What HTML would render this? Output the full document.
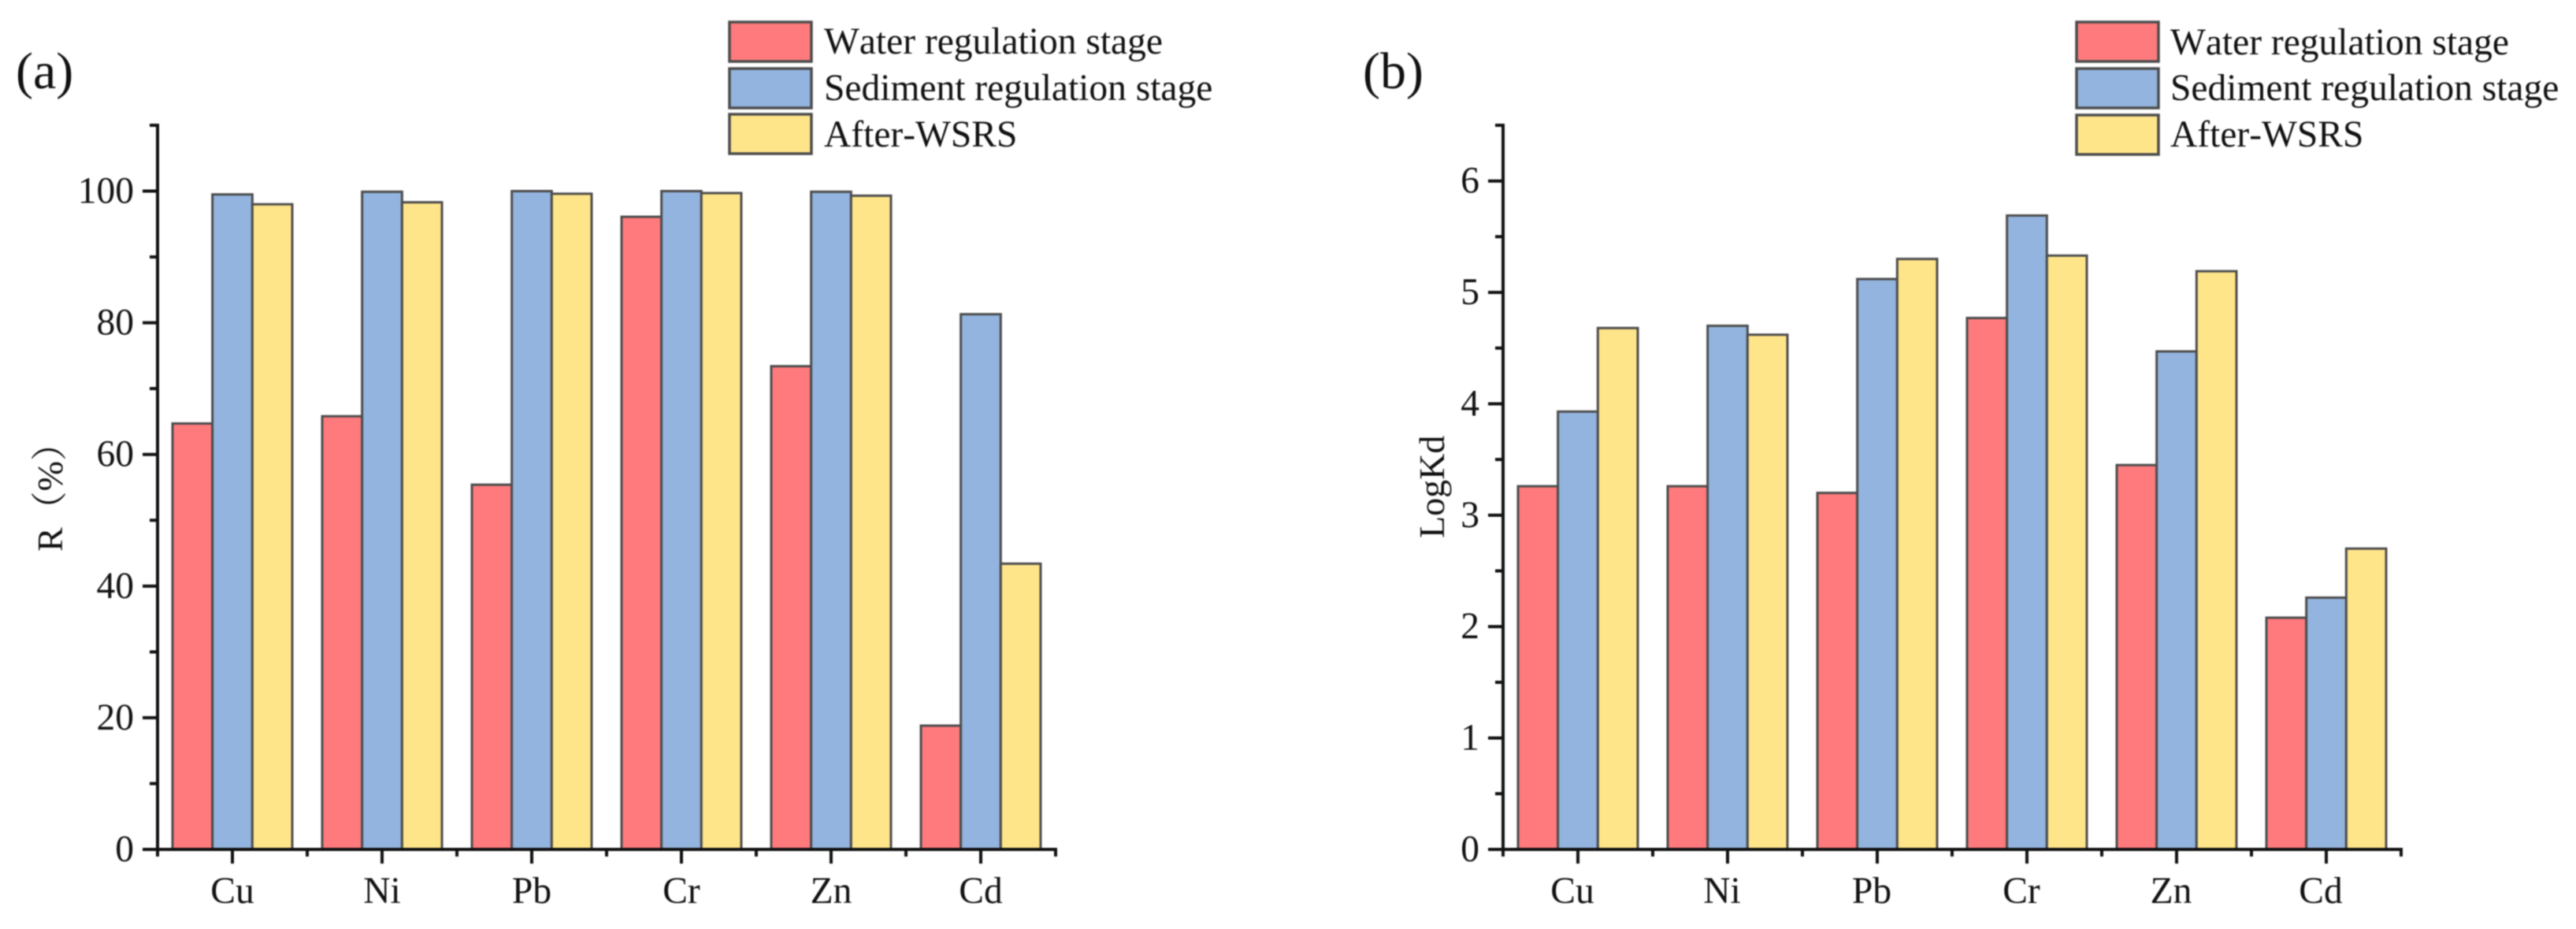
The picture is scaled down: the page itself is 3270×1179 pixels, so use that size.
<!DOCTYPE html>
<html lang="en">
<head>
<meta charset="utf-8">
<title>Metal removal R and LogKd by regulation stage</title>
<style>
  html, body { margin: 0; padding: 0; background: #fff; }
  #figure { display: block; width: 3270px; height: 1179px; filter: blur(0.9px); }
  text { font-family: "Liberation Serif", "Noto Serif CJK SC", serif; fill: #111; font-kerning: none; }
</style>
</head>
<body>
<svg id="figure" xmlns="http://www.w3.org/2000/svg" width="3270" height="1179" viewBox="0 0 3270 1179">
  <rect x="0" y="0" width="3270" height="1179" fill="#fff"/>

  <g id="panel-a">
    <text x="20" y="112" font-size="66">(a)</text>
    <text transform="translate(79,700) rotate(-90)" font-size="46">R（%）</text>
    <g>
      <rect x="926" y="28" width="104" height="50" fill="#FE7A7D" stroke="#4c4c4c" stroke-width="3.5"/>
      <rect x="926" y="87" width="104" height="50" fill="#93B4DF" stroke="#4c4c4c" stroke-width="3.5"/>
      <rect x="926" y="145" width="104" height="50" fill="#FFE58A" stroke="#4c4c4c" stroke-width="3.5"/>
      <text x="1046" y="68" font-size="47.5">Water regulation stage</text>
      <text x="1046" y="127" font-size="47.5">Sediment regulation stage</text>
      <text x="1046" y="186" font-size="47.5">After-WSRS</text>
    </g>
  </g>

  <g id="panel-b">
    <text x="1730" y="112" font-size="66">(b)</text>
    <text transform="translate(1833,683) rotate(-90)" font-size="46">LogKd</text>
    <g>
      <rect x="2636" y="28" width="104" height="50" fill="#FE7A7D" stroke="#4c4c4c" stroke-width="3.5"/>
      <rect x="2636" y="87" width="104" height="50" fill="#93B4DF" stroke="#4c4c4c" stroke-width="3.5"/>
      <rect x="2636" y="146" width="104" height="50" fill="#FFE58A" stroke="#4c4c4c" stroke-width="3.5"/>
      <text x="2755" y="69" font-size="47.5">Water regulation stage</text>
      <text x="2755" y="127" font-size="47.5">Sediment regulation stage</text>
      <text x="2755" y="186" font-size="47.5">After-WSRS</text>
    </g>
  </g>
</svg>

<script>
// Shared categories and series
const categories = ['Cu', 'Ni', 'Pb', 'Cr', 'Zn', 'Cd'];
const seriesNames = ['water', 'sediment', 'after'];

// Panel (a): R (%)
const waterR = [64.7, 65.8, 55.4, 96.1, 73.4, 18.8];
const sedimentR = [99.5, 99.9, 100, 100, 99.9, 81.3];
const afterR = [98.0, 98.3, 99.6, 99.7, 99.3, 43.4];
const ticksR = [0, 20, 40, 60, 80, 100];
const minorTicksR = [10, 30, 50, 70, 90, 110];

// Panel (b): LogKd
const waterKd = [3.26, 3.26, 3.20, 4.77, 3.45, 2.08];
const sedimentKd = [3.93, 4.70, 5.12, 5.69, 4.47, 2.26];
const afterKd = [4.68, 4.62, 5.30, 5.33, 5.19, 2.70];
const ticksKd = [0, 1, 2, 3, 4, 5, 6];
const minorTicksKd = [0.5, 1.5, 2.5, 3.5, 4.5, 5.5, 6.5];

const SVG_NS = 'http://www.w3.org/2000/svg';
const FILLS = ['#FE7A7D', '#93B4DF', '#FFE58A'];
const BOTTOM = 1078, TOP = 159;

function makeLine(parent, x1, y1, x2, y2, width) {
  const l = document.createElementNS(SVG_NS, 'line');
  l.setAttribute('x1', x1);
  l.setAttribute('y1', y1);
  l.setAttribute('x2', x2);
  l.setAttribute('y2', y2);
  l.setAttribute('stroke', '#111');
  l.setAttribute('stroke-width', width);
  parent.appendChild(l);
  return l;
}

function makeText(parent, x, y, anchor, content) {
  const t = document.createElementNS(SVG_NS, 'text');
  t.setAttribute('x', x);
  t.setAttribute('y', y);
  t.setAttribute('text-anchor', anchor);
  t.setAttribute('font-size', '47.5');
  t.textContent = content;
  parent.appendChild(t);
  return t;
}

function drawPanel(panelId, suffix, axisX, yMax, seriesList, majorTicks, minorTicks, labelShift) {
  const panel = document.getElementById(panelId);
  const catWidth = 190;
  const axisRight = axisX + catWidth * categories.length;
  const yScale = v => BOTTOM - (v / yMax) * (BOTTOM - TOP);
  const xScale = i => axisX + catWidth * (i + 0.5);
  const barWidth = catWidth * 0.8 / seriesList.length;

  seriesList.forEach((values, s) => {
    values.forEach((v, i) => {
      const bar = document.createElementNS(SVG_NS, 'rect');
      
      
      bar.setAttribute('x', xScale(i) - catWidth * 0.4 + s * barWidth);
      bar.setAttribute('y', yScale(v));
      bar.setAttribute('width', barWidth);
      bar.setAttribute('height', BOTTOM - yScale(v));
      bar.setAttribute('fill', FILLS[s]);
      bar.setAttribute('stroke', '#4c4c4c');
      bar.setAttribute('stroke-width', '3');
      panel.appendChild(bar);
    });
  });

  const yAxis = makeLine(panel, axisX, TOP - 2, axisX, BOTTOM + 9, 4);
  
  

  const xAxis = makeLine(panel, axisX - 19, BOTTOM, axisRight + 2, BOTTOM, 4);
  
  

  majorTicks.forEach(v => {
    const tick = makeLine(panel, axisX - 19, yScale(v), axisX, yScale(v), 4);
    
    
    const label = makeText(panel, axisX - 30, yScale(v) + 15, 'end', String(v));
    
    
  });

  minorTicks.forEach(v => {
    const tick = makeLine(panel, axisX - 10, yScale(v), axisX, yScale(v), 4);
    
    
  });

  categories.forEach((c, i) => {
    const tick = makeLine(panel, xScale(i), BOTTOM, xScale(i), BOTTOM + 18, 4);
    
    
    const minor = makeLine(panel, axisX + catWidth * (i + 1), BOTTOM, axisX + catWidth * (i + 1), BOTTOM + 9, 4);
    
    
    const label = makeText(panel, xScale(i) + labelShift, 1146, 'middle', c);
    
    
  });
}

drawPanel('panel-a', 'a', 200, 110, [waterR, sedimentR, afterR], ticksR, minorTicksR, 0);
drawPanel('panel-b', 'b', 1908, 6.5, [waterKd, sedimentKd, afterKd], ticksKd, minorTicksKd, -7);
</script>
</body>
</html>
